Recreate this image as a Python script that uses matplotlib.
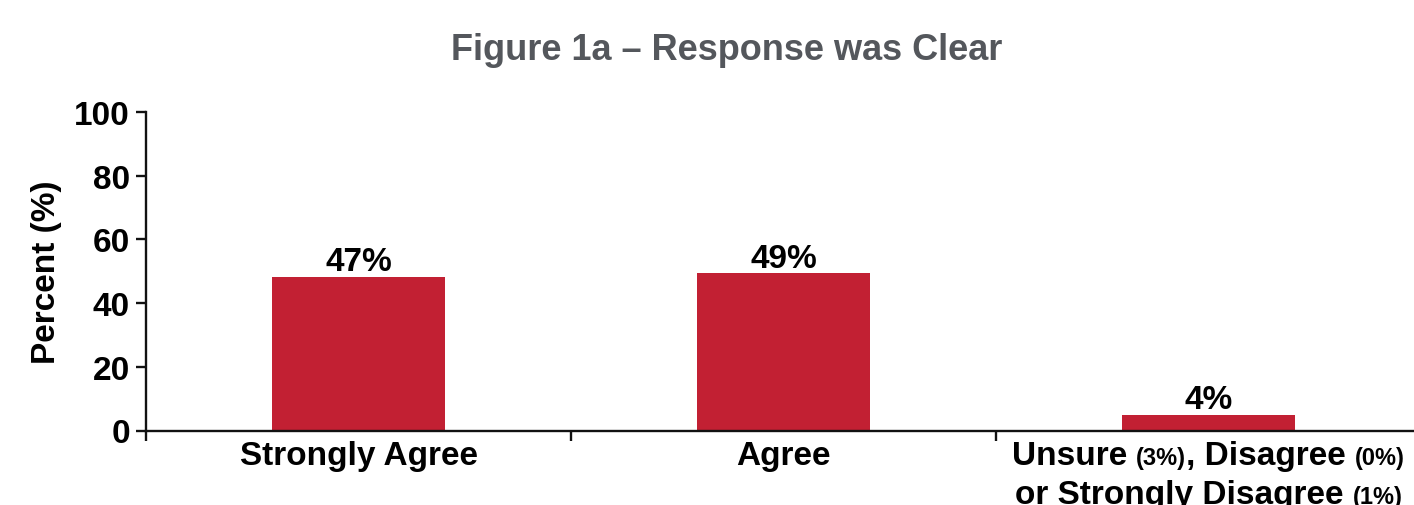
import matplotlib
matplotlib.use("Agg")
import matplotlib.pyplot as plt
from matplotlib.offsetbox import TextArea, HPacker, VPacker, AnnotationBbox

# data
categories = ["Strongly Agree", "Agree", "Unsure/Disagree/Strongly Disagree"]
bar_heights = [48.3, 49.5, 5.0]
bar_labels = ["47%", "49%", "4%"]
yticks = [0, 20, 40, 60, 80, 100]

plt.rcParams['font.family'] = ['Liberation Sans', 'DejaVu Sans']
plt.rcParams['font.weight'] = 'bold'

fig = plt.figure(figsize=(14.14, 5.06), dpi=100)
ax = fig.add_axes([146/1414, 1 - 431.5/506, 1275/1414, 318.5/506])

x = [i + 0.5 for i in range(len(categories))]
bars = ax.bar(x, bar_heights, width=0.407, color='#c22033')
for b, lab in zip(bars, bar_labels):
    ax.annotate(lab, (b.get_x() + b.get_width()/2, b.get_height()),
                xytext=(0, 4.5), textcoords='offset points',
                ha='center', va='baseline', fontsize=24, fontweight='bold')

ax.set_xlim(0, 3)
ax.set_ylim(0, 100)
ax.set_yticks(yticks)
ax.set_yticklabels([str(v) for v in yticks], fontsize=24, fontweight='bold')
ax.set_xticks([0, 1, 2, 3])
ax.set_xticklabels([])
ax.tick_params(axis='both', length=7.5, width=1.7, color='#111111')
ax.tick_params(axis='y', pad=4)
for s in ['top', 'right']:
    ax.spines[s].set_visible(False)
for s in ['left', 'bottom']:
    ax.spines[s].set_linewidth(1.7)
    ax.spines[s].set_color('#111111')

ax.set_ylabel("Percent (%)", fontsize=24, fontweight='bold', labelpad=9)

# category labels
lab_y = -0.03
ax.text(0.5, lab_y, "Strongly Agree", transform=ax.get_xaxis_transform(),
        ha='center', va='top', fontsize=24, fontweight='bold')
ax.text(1.5, lab_y, "Agree", transform=ax.get_xaxis_transform(),
        ha='center', va='top', fontsize=24, fontweight='bold')

def piece(t, size):
    return TextArea(t, textprops=dict(fontsize=size, fontweight='bold', color='black'))

big, small = 24, 17
line1 = HPacker(children=[piece("Unsure ", big), piece("(3%)", small),
                          piece(", Disagree ", big), piece("(0%)", small)],
                align="baseline", pad=0, sep=0)
line2 = HPacker(children=[piece("or Strongly Disagree ", big), piece("(1%)", small)],
                align="baseline", pad=0, sep=0)
block = VPacker(children=[line1, line2], align="center", pad=0, sep=6)
ab = AnnotationBbox(block, (2.5, lab_y), xycoords=ax.get_xaxis_transform(),
                    box_alignment=(0.5, 1), frameon=False, pad=0,
                    annotation_clip=False)
ax.add_artist(ab)

fig.text(727/1414, 1 - 50/506, "Figure 1a \u2013 Response was Clear",
         ha='center', va='center', fontsize=26, fontweight='bold', color='#54575c')

fig.savefig("out.png", dpi=100)
